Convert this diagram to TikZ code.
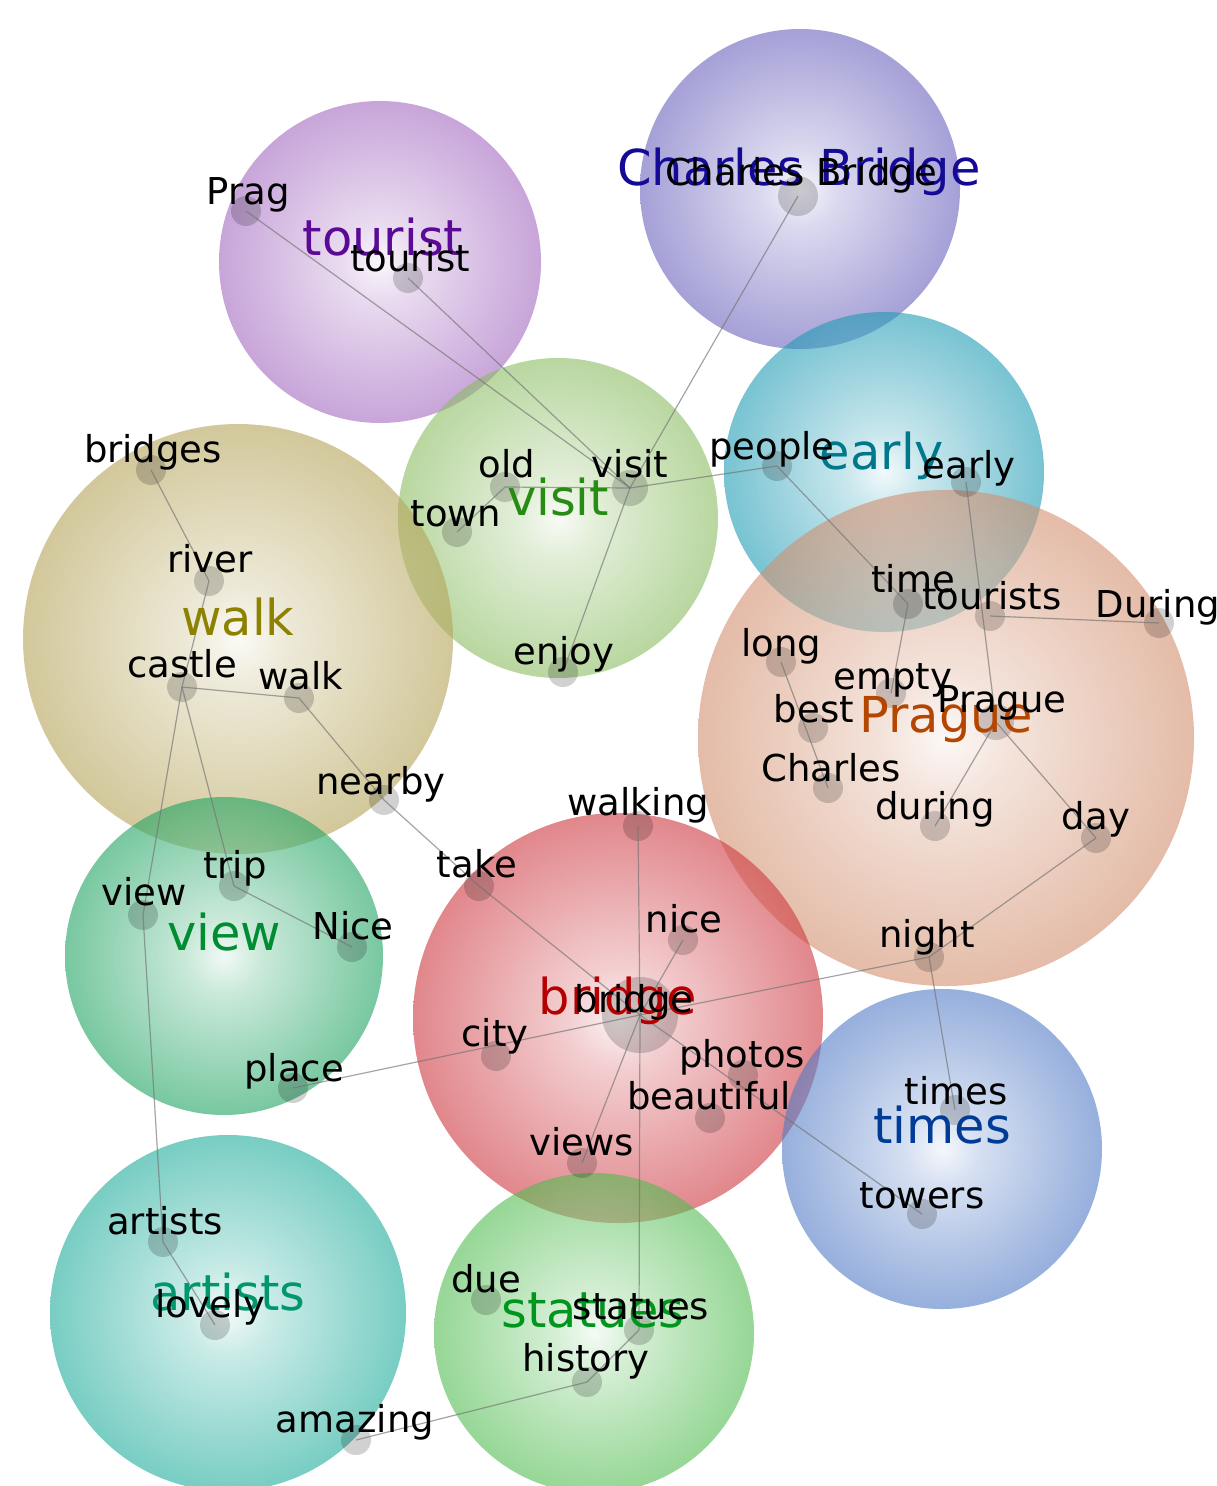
\documentclass[tikz,border=0pt]{standalone}
\usepackage{fontspec}
\setmainfont{DejaVu Sans}
\usetikzlibrary{positioning}
\definecolor{tourcol}{RGB}{163,105,192}
\definecolor{charcol}{RGB}{105,97,188}
\definecolor{visitcol}{RGB}{138,188,97}
\definecolor{earlycol}{RGB}{30,155,180}
\definecolor{walkcol}{RGB}{180,163,88}
\definecolor{praguecol}{RGB}{210,143,110}
\definecolor{viewcol}{RGB}{30,163,97}
\definecolor{bridgecol}{RGB}{205,55,63}
\definecolor{timescol}{RGB}{80,122,197}
\definecolor{artistcol}{RGB}{30,172,155}
\definecolor{statuecol}{RGB}{80,188,80}
\definecolor{tourtext}{RGB}{90,10,150}
\definecolor{chartext}{RGB}{20,10,150}
\definecolor{visittext}{RGB}{40,140,20}
\definecolor{earlytext}{RGB}{0,120,140}
\definecolor{walktext}{RGB}{140,130,0}
\definecolor{praguetext}{RGB}{180,70,0}
\definecolor{viewtext}{RGB}{0,140,50}
\definecolor{bridgetext}{RGB}{180,0,0}
\definecolor{timestext}{RGB}{0,60,150}
\definecolor{artisttext}{RGB}{0,150,110}
\definecolor{statuetext}{RGB}{0,150,30}
\colorlet{bubblecol}{white}
\pgfdeclareradialshading[bubblecol]{bubble}{\pgfpointorigin}{color(0bp)=(bubblecol!10!white); color(6bp)=(bubblecol!40!white); color(17bp)=(bubblecol!75!white); color(25bp)=(bubblecol); color(50bp)=(bubblecol)}
\newcommand{\wordfont}{\fontsize{37pt}{40pt}\selectfont}
\newcommand{\topicfont}{\fontsize{49.5pt}{52pt}\selectfont}
\tikzset{bubble/.style = {shading=bubble, fill opacity=0.6,
                          /utils/exec={\colorlet{bubblecol}{#1}}},
         dot/.style = {circle, fill=black, fill opacity=0.18, inner sep=0pt,
                       minimum size=30pt},
         bigdot/.style = {dot, minimum size=76pt},
         link/.style = {draw=black!55, line width=1.2pt, draw opacity=0.65},
         word/.style = {font=\wordfont, text height=28pt, text depth=9pt,
                        inner sep=0pt},
         topic/.style = {font=\topicfont, text height=37.6pt, text depth=11.9pt,
                         inner sep=0pt}}

\begin{document}
\begin{tikzpicture}[x=1pt, y=-1pt]
      \useasboundingbox (0,0) rectangle (1217,1486);

      \shade [bubble=tourcol] (380,262) circle (161);
      \shade [bubble=charcol] (800,189) circle (160);
      \shade [bubble=visitcol] (558,518) circle (160);
      \shade [bubble=walkcol] (238,639) circle (215);
      \shade [bubble=earlycol] (884,472) circle (160);
      \shade [bubble=praguecol] (946,738) circle (248);
      \shade [bubble=viewcol] (224,956) circle (159);
      \shade [bubble=bridgecol] (618,1018) circle (205);
      \shade [bubble=timescol] (942,1149) circle (160);
      \shade [bubble=artistcol] (228,1313) circle (178);
      \shade [bubble=statuecol] (594,1333) circle (160);

      \node [dot] (prag) at (246,211) {};
      \node [dot] (tourist) at (408,278) {};
      \node [dot, minimum size=40pt] (charlesbridge) at (798,196) {};
      \node [dot] (bridges) at (151,470) {};
      \node [dot] (old) at (505,487) {};
      \node [dot, minimum size=36pt] (visit) at (630,488) {};
      \node [dot] (town) at (457,532) {};
      \node [dot] (people) at (777,466) {};
      \node [dot] (early) at (966,482) {};
      \node [dot] (river) at (209,581) {};
      \node [dot] (enjoy) at (563,672) {};
      \node [dot] (time) at (908,604) {};
      \node [dot] (tourists) at (990,616) {};
      \node [dot] (During) at (1159,623) {};
      \node [dot] (long) at (781,662) {};
      \node [dot] (empty) at (891,693) {};
      \node [dot] (best) at (813,728) {};
      \node [dot, minimum size=36pt] (prague) at (996,722) {};
      \node [dot] (charles) at (828,788) {};
      \node [dot] (nearby) at (384,800) {};
      \node [dot] (walking) at (638,826) {};
      \node [dot] (during) at (935,826) {};
      \node [dot] (day) at (1096,838) {};
      \node [dot] (castle) at (182,687) {};
      \node [dot] (walk) at (299,698) {};
      \node [dot] (trip) at (234,886) {};
      \node [dot] (take) at (479,886) {};
      \node [dot] (view) at (143,915) {};
      \node [dot] (nice) at (683,940) {};
      \node [dot] (Nice) at (352,947) {};
      \node [dot] (night) at (929,957) {};
      \node [bigdot] (bridge) at (640,1015) {};
      \node [dot] (city) at (496,1056) {};
      \node [dot] (place) at (293,1088) {};
      \node [dot] (photos) at (743,1075) {};
      \node [dot] (beautiful) at (710,1118) {};
      \node [dot] (times) at (955,1110) {};
      \node [dot] (views) at (582,1163) {};
      \node [dot] (towers) at (922,1214) {};
      \node [dot] (artists) at (163,1242) {};
      \node [dot] (due) at (486,1300) {};
      \node [dot] (statues) at (639,1330) {};
      \node [dot] (lovely) at (215,1325) {};
      \node [dot] (history) at (587,1382) {};
      \node [dot] (amazing) at (356,1440) {};

      \draw [link] (prag.center) -- (visit.center);
      \draw [link] (tourist.center) -- (visit.center);
      \draw [link] (charlesbridge.center) -- (visit.center);
      \draw [link] (town.center) -- (old.center);
      \draw [link] (old.center) -- (visit.center);
      \draw [link] (visit.center) -- (people.center);
      \draw [link] (visit.center) -- (enjoy.center);
      \draw [link] (people.center) -- (time.center);
      \draw [link] (time.center) -- (empty.center);
      \draw [link] (early.center) -- (prague.center);
      \draw [link] (tourists.center) -- (During.center);
      \draw [link] (long.center) -- (charles.center);
      \draw [link] (prague.center) -- (during.center);
      \draw [link] (prague.center) -- (day.center);
      \draw [link] (day.center) -- (night.center);
      \draw [link] (night.center) -- (bridge.center);
      \draw [link] (bridge.center) -- (place.center);
      \draw [link] (night.center) -- (times.center);
      \draw [link] (walking.center) -- (bridge.center);
      \draw [link] (bridge.center) -- (statues.center);
      \draw [link] (take.center) -- (bridge.center);
      \draw [link] (bridge.center) -- (nice.center);
      \draw [link] (bridge.center) -- (views.center);
      \draw [link] (bridge.center) -- (towers.center);
      \draw [link] (nearby.center) -- (take.center);
      \draw [link] (walk.center) -- (nearby.center);
      \draw [link] (castle.center) -- (walk.center);
      \draw [link] (bridges.center) -- (river.center);
      \draw [link] (river.center) -- (castle.center);
      \draw [link] (castle.center) -- (trip.center);
      \draw [link] (castle.center) -- (view.center);
      \draw [link] (view.center) -- (artists.center);
      \draw [link] (trip.center) -- (Nice.center);
      \draw [link] (artists.center) -- (lovely.center);
      \draw [link] (statues.center) -- (history.center);
      \draw [link] (history.center) -- (amazing.center);

      \node [topic, text=tourtext] (t-tourist) at (383,243) {tourist};
      \node [topic, text=chartext] (t-charlesbridge) at (799,173) {Charles Bridge};
      \node [topic, text=visittext] (t-visit) at (558,503) {visit};
      \node [topic, text=earlytext] (t-early) at (882,457) {early};
      \node [topic, text=walktext] (t-walk) at (238,623) {walk};
      \node [topic, text=praguetext] (t-prague) at (946,720) {Prague};
      \node [topic, text=viewtext] (t-view) at (224,938) {view};
      \node [topic, text=bridgetext] (t-bridge) at (618,1002) {bridge};
      \node [topic, text=timestext] (t-times) at (942,1131) {times};
      \node [topic, text=artisttext] (t-artists) at (228,1298) {artists};
      \node [topic, text=statuetext] (t-statues) at (593,1315) {statues};

      \node [word] (prag-t) at (248,195) {Prag};
      \node [word] (tourist-t) at (410,262) {tourist};
      \node [word] (charlesbridge-t) at (801,176) {Charles Bridge};
      \node [word] (bridges-t) at (153,453) {bridges};
      \node [word] (old-t) at (507,468) {old};
      \node [word] (visit-t) at (630,468) {visit};
      \node [word] (town-t) at (456,517) {town};
      \node [word] (people-t) at (772,450) {people};
      \node [word] (early-t) at (969,469) {early};
      \node [word] (river-t) at (210,563) {river};
      \node [word] (enjoy-t) at (564,655) {enjoy};
      \node [word] (time-t) at (913,583) {time};
      \node [word] (tourists-t) at (992,600) {tourists};
      \node [word] (During-t) at (1158,608) {During};
      \node [word] (long-t) at (781,647) {long};
      \node [word] (empty-t) at (893,680) {empty};
      \node [word] (best-t) at (814,713) {best};
      \node [word] (prague-t) at (1002,703) {Prague};
      \node [word] (charles-t) at (831,772) {Charles};
      \node [word] (nearby-t) at (381,785) {nearby};
      \node [word] (walking-t) at (638,806) {walking};
      \node [word] (during-t) at (935,810) {during};
      \node [word] (day-t) at (1096,820) {day};
      \node [word] (castle-t) at (182,668) {castle};
      \node [word] (walk-t) at (301,680) {walk};
      \node [word] (trip-t) at (235,869) {trip};
      \node [word] (take-t) at (477,868) {take};
      \node [word] (view-t) at (144,896) {view};
      \node [word] (nice-t) at (684,923) {nice};
      \node [word] (Nice-t) at (353,930) {Nice};
      \node [word] (night-t) at (927,938) {night};
      \node [word] (bridge-t) at (634,1003) {bridge};
      \node [word] (city-t) at (495,1037) {city};
      \node [word] (place-t) at (294,1072) {place};
      \node [word] (photos-t) at (742,1058) {photos};
      \node [word] (beautiful-t) at (709,1100) {beautiful};
      \node [word] (times-t) at (956,1095) {times};
      \node [word] (views-t) at (582,1146) {views};
      \node [word] (towers-t) at (922,1199) {towers};
      \node [word] (artists-t) at (165,1225) {artists};
      \node [word] (due-t) at (486,1283) {due};
      \node [word] (statues-t) at (641,1310) {statues};
      \node [word] (lovely-t) at (210,1308) {lovely};
      \node [word] (history-t) at (586,1362) {history};
      \node [word] (amazing-t) at (355,1423) {amazing};
\end{tikzpicture}
\end{document}
